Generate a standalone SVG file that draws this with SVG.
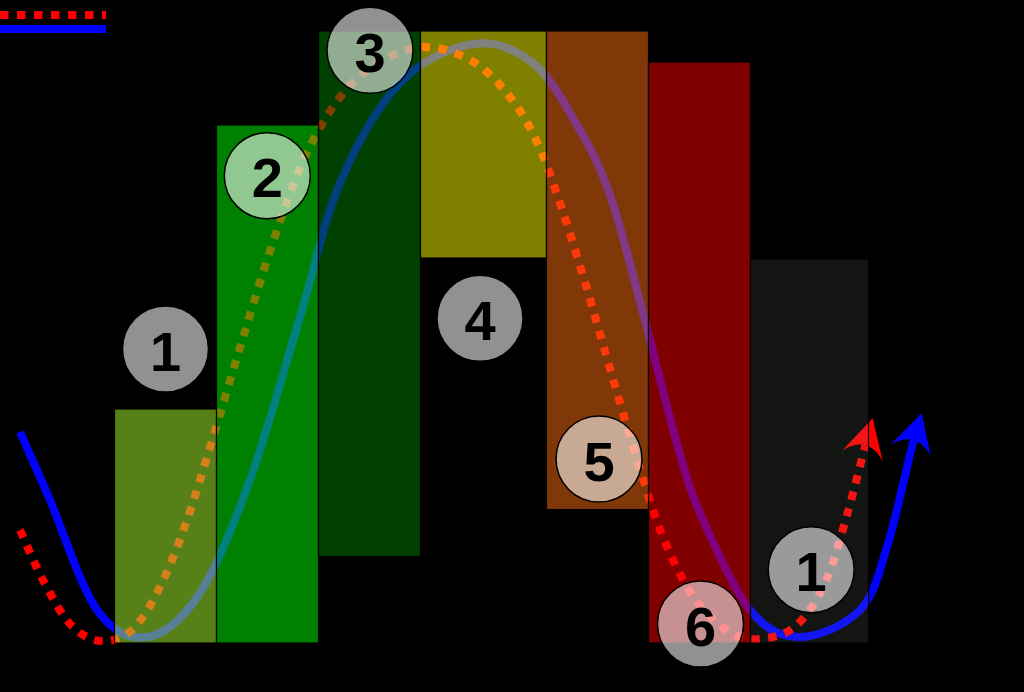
<svg xmlns="http://www.w3.org/2000/svg" width="1024" height="692" viewBox="0 0 1024 692">
<style>
.blue{fill:none;stroke:#0000ff;stroke-width:8}
.red{fill:none;stroke:#ff0000;stroke-width:8;stroke-dasharray:8.5 8.5}
.stage{stroke:#000;stroke-width:1.2;fill-opacity:0.5}
.node circle{fill:#fff;fill-opacity:0.57;stroke:#000;stroke-width:1.5}
.node text{font-family:"Liberation Sans",Arial,sans-serif;font-weight:bold;font-size:56px;fill:#000;text-anchor:middle}
</style>
<defs>
<marker id="headBlue" markerUnits="userSpaceOnUse" orient="auto" viewBox="-15 -25 50 50" markerWidth="50" markerHeight="50" refX="0" refY="0">
<path d="M28,0 L-11,-21 Q11,0 -11,21 Z" fill="#0000ff"/>
</marker>
<marker id="headRed" markerUnits="userSpaceOnUse" orient="auto" viewBox="-15 -25 50 50" markerWidth="50" markerHeight="50" refX="0" refY="0">
<path d="M28,0 L-11,-21 Q11,0 -11,21 Z" fill="#ff0000"/>
</marker>
</defs>
<rect x="0" y="0" width="1024" height="692" fill="#000"/>
<g id="legend">
<line class="red" x1="0" y1="15" x2="106" y2="15"/>
<line class="blue" x1="0" y1="29" x2="106" y2="29"/>
</g>
<g id="connectors">
<path id="blueCurve" class="blue" marker-end="url(#headBlue)" d="M20,432 C25,443.3 36.7,469.2 50,500 C63.3,530.8 82,592 100,614 C116.2,634 130.3,639 147,637 C163.7,635 182.8,619.2 200,593 C217.2,566.8 233.3,526 250,480 C266.7,434 285,366.5 300,317 C315,267.5 323.3,222 340,183 C356.7,144 377.8,106.2 400,83 C422.2,59.8 450.8,47.3 473,44 C495.2,40.7 515.7,49.5 533,63 C550.3,76.5 564.2,103 577,125 C589.8,147 599,163.7 610,195 C621,226.3 632,272.2 643,313 C654,353.8 666.5,406.7 676,440 C685.5,473.3 687.7,484.7 700,513 C712.3,541.3 733.3,589.3 750,610 C766.7,630.7 781.7,637 800,637 C818.3,637 845.5,625 860,610 C874.5,595 878,575.3 887,547 C896,518.7 908.7,457.5 913.8,440.2"/>
<path id="redCurve" class="red" marker-end="url(#headRed)" d="M20,530 C24,538.7 35.5,566.2 44,582 C52.5,597.8 61.5,615.2 71,625 C80.5,634.8 90.8,640.2 101,641 C111.2,641.8 122.2,639 132,630 C141.8,621 151,604.8 160,587 C169,569.2 177.3,547.3 186,523 C194.7,498.7 202.7,471.3 212,441 C221.3,410.7 231.8,374.2 242,341 C252.2,307.8 262.8,272 273,242 C283.2,212 292.2,184.7 303,161 C313.8,137.3 326,116 338,100 C350,84 360.8,73.8 375,65 C389.2,56.2 406.8,47.7 423,47 C439.2,46.3 457.5,52.7 472,61 C486.5,69.3 499.2,83.5 510,97 C520.8,110.5 528.5,123.8 537,142 C545.5,160.2 552.7,181.5 561,206 C569.3,230.5 578.7,261.3 587,289 C595.3,316.7 602.8,344.2 611,372 C619.2,399.8 627.3,428.5 636,456 C644.7,483.5 653.2,513.2 663,537 C672.8,560.8 683.3,582.8 695,599 C706.7,615.2 721,627.5 733,634 C745,640.5 756.2,639.7 767,638 C777.8,636.3 788.2,633.5 798,624 C807.8,614.5 817.8,599.2 826,581 C834.2,562.8 840.4,537.6 847,515 C853.6,492.4 861.5,459.8 865.4,445.3"/>
</g>
<g id="stages">
<rect id="stage1" class="stage" x="114.5" y="409" width="102" height="234" fill="#adff2f"/>
<rect id="stage2" class="stage" x="216.5" y="125" width="102" height="518" fill="#00ff00"/>
<rect id="stage3" class="stage" x="318.5" y="31" width="102" height="525.5" fill="#008000"/>
<rect id="stage4" class="stage" x="420.5" y="31" width="126" height="227" fill="#ffff00"/>
<rect id="stage5" class="stage" x="546.5" y="31" width="102" height="478.5" fill="#ff7010"/>
<rect id="stage6" class="stage" x="648.5" y="62" width="102" height="581" fill="#ff0000"/>
<rect id="stage7" x="750.5" y="259" width="118" height="384" fill="#9fb09f" fill-opacity="0.12" stroke="#000" stroke-width="1.2"/>
</g>
<g id="node1a" class="node"><circle cx="165.5" cy="349" r="43"/><text x="165.5" y="370.5">1</text></g>
<g id="node2" class="node"><circle cx="267.3" cy="175.7" r="43"/><text x="267.3" y="197.3">2</text></g>
<g id="node3" class="node"><circle cx="370" cy="50.3" r="43"/><text x="370" y="71.8">3</text></g>
<g id="node4" class="node"><circle cx="480" cy="318.3" r="43"/><text x="480" y="339.8">4</text></g>
<g id="node5" class="node"><circle cx="599" cy="459" r="43"/><text x="599" y="480.5">5</text></g>
<g id="node6" class="node"><circle cx="700.5" cy="624" r="43"/><text x="700.5" y="645.5">6</text></g>
<g id="node1b" class="node"><circle cx="811.2" cy="569.7" r="43"/><text x="811.2" y="591.2">1</text></g>
</svg>
